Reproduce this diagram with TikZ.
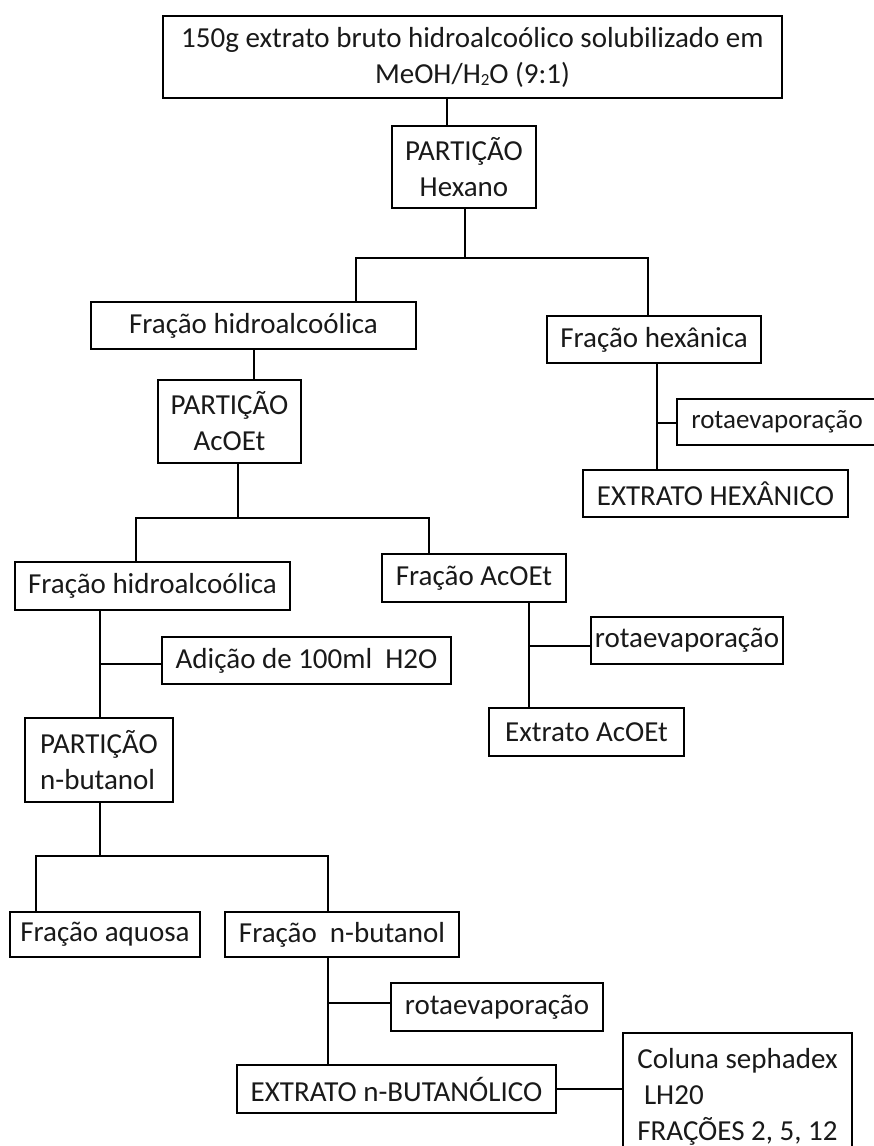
\documentclass[tikz,border=0pt]{standalone}
\usepackage{fontspec}
\setmainfont{Carlito}
\begin{document}
\begin{tikzpicture}[x=1pt,y=-1pt,
  box/.style={draw=black, line width=2.9pt, inner sep=0pt, align=center,
    font=\fontsize{29}{36}\selectfont, text=black!90},
  conn/.style={line width=2.9pt, line cap=rect}]
\useasboundingbox (0,0) rectangle (873,1146);
% boxes
\node[box, minimum width=619, minimum height=82] (top) at (472.5,57)
  {150g extrato bruto hidroalcoólico solubilizado em\\MeOH/H{\raisebox{-0.08em}{\fontsize{17}{17}\selectfont 2}}O (9:1)};
\node[box, minimum width=144, minimum height=82] (hexp) at (464,167) {PARTIÇÃO\\Hexano};
\node[box, minimum width=325, minimum height=47] (frh1) at (253.5,325.5) {Fração hidroalcoólica};
\node[box, minimum width=214, minimum height=47] (frhex) at (654,339.5) {Fração hexânica};
\node[box, minimum width=143, minimum height=83] (acp) at (229.5,421.5) {PARTIÇÃO\\AcOEt};
\node[box, minimum width=200, minimum height=46, font=\fontsize{27}{36}\selectfont] (rot1) at (777,422) {rotaevaporação};
\node[box, minimum width=265, minimum height=47] (exhex) at (715.5,493.5) {EXTRATO HEXÂNICO};
\node[box, minimum width=275, minimum height=48] (frh2) at (152.5,586) {Fração hidroalcoólica};
\node[box, minimum width=184, minimum height=48] (fracoet) at (474,578) {Fração AcOEt};
\node[box, minimum width=192, minimum height=47] (rot2) at (687,640.5) {rotaevaporação};
\node[box, minimum width=289, minimum height=47] (adicao) at (306.5,660.5) {Adição de 100ml\ \ H2O};
\node[box, minimum width=195, minimum height=48] (extacoet) at (586.5,732) {Extrato AcOEt};
\node[box, align=left, minimum width=148, minimum height=84] (nbp) at (99,760) {PARTIÇÃO\\n-butanol};
\node[box, minimum width=190, minimum height=45] (fraq) at (105,934.5) {Fração aquosa};
\node[box, minimum width=234, minimum height=45] (frnb) at (342,934.5) {Fração\ \ n-butanol};
\node[box, minimum width=212, minimum height=48] (rot3) at (497,1007) {rotaevaporação};
\node[box, minimum width=319, minimum height=48] (extnb) at (396.5,1089) {EXTRATO n-BUTANÓLICO};
\node[box, align=left, minimum width=229, minimum height=127] (coluna) at (737.5,1096.5)
  {Coluna sephadex\\\hspace*{0.23em}LH20\\FRAÇÕES 2, 5, 12};
% junction coordinates
\coordinate (j1) at (465,258);
\coordinate (b1l) at (356,258);
\coordinate (b1r) at (648,258);
\coordinate (j2) at (238,518);
\coordinate (b2l) at (136,518);
\coordinate (b2r) at (429,518);
\coordinate (j3) at (100,856);
\coordinate (b3l) at (36,856);
\coordinate (b3r) at (328,856);
\coordinate (t1) at (657,423);
\coordinate (t2) at (529,646);
\coordinate (t3) at (100,664);
\coordinate (t4) at (328,1003);
\coordinate (fx) at (254,0);
% connectors
\draw[conn] ([xshift=-17pt]hexp.north) -- ([xshift=-17pt]hexp.north |- top.south);
\draw[conn] (hexp.south -| j1) -- (j1);
\draw[conn] (b1l) -- (b1r);
\draw[conn] (b1l) -- (frh1.north -| b1l);
\draw[conn] (b1r) -- (frhex.north -| b1r);
\draw[conn] (frh1.south -| fx) -- (acp.north -| fx);
\draw[conn] (frhex.south -| t1) -- (exhex.north -| t1);
\draw[conn] (t1) -- (rot1.west |- t1);
\draw[conn] (acp.south -| j2) -- (j2);
\draw[conn] (b2l) -- (b2r);
\draw[conn] (b2l) -- (frh2.north -| b2l);
\draw[conn] (b2r) -- (fracoet.north -| b2r);
\draw[conn] (fracoet.south -| t2) -- (extacoet.north -| t2);
\draw[conn] (t2) -- (rot2.west |- t2);
\draw[conn] (frh2.south -| t3) -- (nbp.north -| t3);
\draw[conn] (t3) -- (adicao.west |- t3);
\draw[conn] (nbp.south -| j3) -- (j3);
\draw[conn] (b3l) -- (b3r);
\draw[conn] (b3l) -- (fraq.north -| b3l);
\draw[conn] (b3r) -- (frnb.north -| b3r);
\draw[conn] (frnb.south -| t4) -- (extnb.north -| t4);
\draw[conn] (t4) -- (rot3.west |- t4);
\draw[conn] (extnb.east) -- (coluna.west |- extnb.east);
\end{tikzpicture}
\end{document}
